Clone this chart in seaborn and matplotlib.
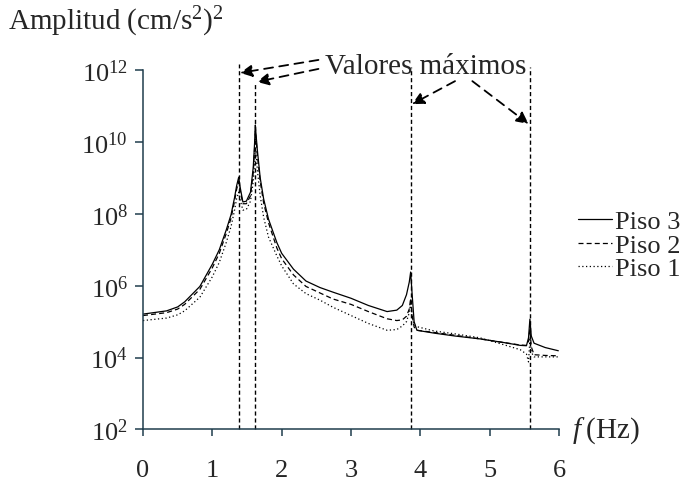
import numpy as np
import matplotlib
matplotlib.use("Agg")
import matplotlib.pyplot as plt
import seaborn as sns

# datos (frecuencia en Hz, amplitud como exponente log10)
freq = [0.00, 0.34, 0.50, 0.60, 0.82, 1.00, 1.10, 1.20, 1.27, 1.32, 1.35,
        1.38, 1.40, 1.44, 1.49, 1.55, 1.59, 1.61, 1.62, 1.63, 1.65,
        1.69, 1.74, 1.81, 1.93, 2.00, 2.17, 2.35, 2.55, 2.74, 3.00, 3.25, 3.52,
        3.66, 3.74, 3.80, 3.84, 3.86, 3.88, 3.91, 3.95, 4.20, 4.50,
        4.86, 5.20, 5.44, 5.53, 5.56, 5.58, 5.60, 5.64, 5.80, 5.99]
piso3 = [5.21, 5.30, 5.41, 5.55, 5.98, 6.60, 7.00, 7.55, 7.98, 8.45, 8.78,
         9.02, 8.75, 8.33, 8.35, 8.60, 9.30, 10.00, 10.47, 10.20, 9.75,
         9.00, 8.41, 7.85, 7.20, 6.90, 6.46, 6.13, 5.95, 5.82, 5.65, 5.45, 5.28,
         5.32, 5.45, 5.75, 6.10, 6.38, 5.80, 5.00, 4.76, 4.68, 4.60,
         4.52, 4.42, 4.34, 4.33, 4.55, 5.07, 4.60, 4.40, 4.28, 4.19]
piso2 = [5.17, 5.25, 5.35, 5.48, 5.90, 6.50, 6.90, 7.45, 7.88, 8.35, 8.68,
         8.90, 8.65, 8.28, 8.28, 8.50, 9.15, 9.85, 10.30, 10.10, 9.60,
         8.90, 8.30, 7.75, 7.05, 6.75, 6.30, 5.98, 5.80, 5.63, 5.48, 5.28, 5.08,
         5.03, 5.05, 5.15, 5.35, 5.65, 5.20, 4.85, 4.76, 4.70, 4.62,
         4.52, 4.42, 4.35, 4.34, 4.45, 4.80, 4.30, 4.08, 4.06, 4.05]
piso1 = [5.03, 5.10, 5.19, 5.30, 5.68, 6.25, 6.65, 7.20, 7.65, 8.10, 8.42,
         8.60, 8.40, 8.10, 8.12, 8.35, 8.90, 9.50, 9.85, 9.65, 9.20,
         8.50, 7.90, 7.35, 6.83, 6.55, 6.05, 5.78, 5.60, 5.40, 5.17, 4.95, 4.76,
         4.78, 4.88, 5.00, 5.25, 5.50, 5.15, 4.92, 4.86, 4.74, 4.66,
         4.55, 4.36, 4.22, 4.10, 3.88, 4.50, 4.15, 4.02, 4.02, 4.02]

# frecuencias de los valores máximos
picos = [1.38, 1.62, 3.86, 5.58]
picos_top = [12.17, 11.67, 12.08, 12.08]

sns.set_style("ticks")
plt.rcParams['font.family'] = ['Liberation Serif', 'DejaVu Serif']
plt.rcParams['mathtext.fontset'] = 'custom'
plt.rcParams['mathtext.rm'] = 'Liberation Serif'
plt.rcParams['mathtext.it'] = 'Liberation Serif:italic'

fig = plt.figure(figsize=(6.86, 4.81), dpi=100)
ax = fig.add_axes([0.2085, 0.105, 0.6064, 0.7474])

f = np.array(freq)
sns.lineplot(x=f, y=10 ** np.array(piso3), ax=ax, color='k', lw=0.9,
             label='Piso 3')
sns.lineplot(x=f, y=10 ** np.array(piso2), ax=ax, color='k', lw=0.9,
             dashes=False, linestyle=(0, (4, 2.5)), label='Piso 2')
sns.lineplot(x=f, y=10 ** np.array(piso1), ax=ax, color='k', lw=0.9,
             dashes=False, linestyle=(0, (1, 2)), label='Piso 1')

ax.set_yscale('log')
ax.set_ylim(1e2, 1e12)
ax.set_xlim(0, 6)
ax.set_yticks([1e2, 1e4, 1e6, 1e8, 1e10, 1e12])
ax.yaxis.set_minor_locator(matplotlib.ticker.NullLocator())
ax.set_xticks(range(7))
ax.set_xlabel('')
ax.set_ylabel('')

axcol = '#1f3d4d'
for s in ['top', 'right']:
    ax.spines[s].set_visible(False)
for s in ['left', 'bottom']:
    ax.spines[s].set_color(axcol)
    ax.spines[s].set_linewidth(1.1)
ax.tick_params(axis='y', direction='out', length=6, width=1.1, color=axcol,
               labelsize=19, pad=5)
ax.tick_params(axis='x', direction='out', length=5, width=1.1, color=axcol,
               labelsize=19, pad=16)

# líneas verticales en los máximos
for x, top in zip(picos, picos_top):
    ax.plot([x, x], [1e2, 10 ** top], color='k', lw=1.0,
            linestyle=(0, (3, 2)), clip_on=False)

# texto y flechas
ax.text(4.07, 10 ** 12.1, 'Valores máximos', fontsize=21, ha='center',
        va='center')
flechas = [((2.53, 12.28), (1.40, 11.92)),
           ((2.53, 12.03), (1.64, 11.67)),
           ((4.50, 11.69), (3.88, 11.05)),
           ((4.75, 11.69), (5.56, 10.50))]
for (x0, y0), (x1, y1) in flechas:
    ax.annotate('', xy=(x1, 10 ** y1), xytext=(x0, 10 ** y0),
                annotation_clip=False,
                arrowprops=dict(arrowstyle='-|>', color='k', lw=1.3,
                                linestyle=(0, (5, 3.5)), mutation_scale=18,
                                shrinkA=0, shrinkB=0))

fig.text(8 / 686, 1 - 22 / 481, r'Amplitud (cm/s$^2$)$^2$', fontsize=21,
         ha='left', va='center')
ax.text(1.03, 0.0, r'$f\;$(Hz)', transform=ax.transAxes, fontsize=21,
        ha='left', va='center')

ax.legend(loc='center left', bbox_to_anchor=(578 / 686, 1 - 246 / 481),
          bbox_transform=fig.transFigure, frameon=False, fontsize=19,
          handlelength=1.3, handletextpad=0.1, labelspacing=0.0,
          borderpad=0, borderaxespad=0)

fig.savefig('out.png', dpi=100)
